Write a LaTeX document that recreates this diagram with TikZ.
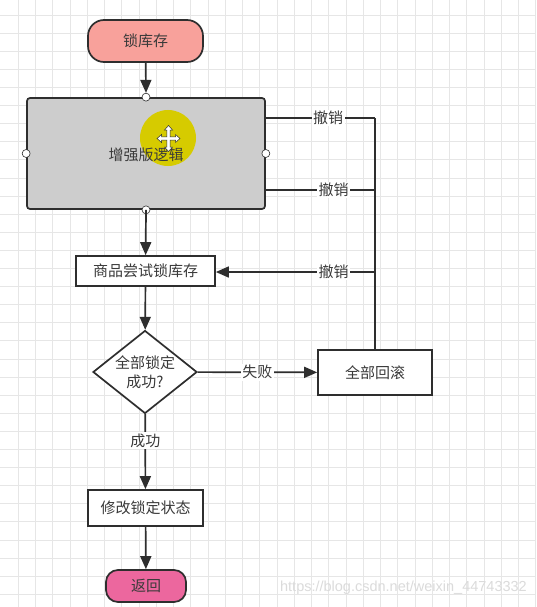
\documentclass[tikz,border=0pt]{standalone}
\usepackage{fontspec}
\setmainfont{Noto Sans CJK SC}
\newfontfamily\wmfont{Liberation Sans}
\usetikzlibrary{arrows.meta,shapes.geometric}
\definecolor{edgec}{HTML}{2E2E2E}
\definecolor{salmon}{HTML}{F8A19B}
\definecolor{grayfill}{HTML}{CDCDCD}
\definecolor{pinkfill}{HTML}{EC679E}
\definecolor{gridc}{HTML}{E6E6E6}
\definecolor{hilite}{HTML}{D6CB00}
\definecolor{txtc}{HTML}{3A3A3A}
\tikzset{
  base/.style={draw=edgec, line width=1.7pt, text=txtc, font=\fontsize{15}{19}\selectfont, inner sep=0pt, align=center},
  boxnode/.style={base, fill=white, rectangle},
  pill/.style={base, rectangle, rounded corners=16pt},
  conn/.style={draw=edgec, line width=1.7pt},
  arr/.style={conn, -{Triangle[length=13pt,width=11pt]}},
  lbl/.style={fill=white, text=txtc, font=\fontsize{15}{18}\selectfont, inner sep=1.5pt},
  port/.style={circle, draw=edgec, line width=0.6pt, fill=white, minimum size=8pt, inner sep=0pt}
}
\begin{document}
\begin{tikzpicture}[x=1pt,y=-1pt]
\useasboundingbox (0,0) rectangle (536,607);
\fill[white] (0,0) rectangle (536,607);
% grid
\foreach \k in {0,...,30} {\draw[gridc, line width=0.8pt] ({18.25+17.25*\k},0) -- ({18.25+17.25*\k},607);}
\foreach \k in {0,...,33} {\draw[gridc, line width=0.8pt] (0,{15+18.1*\k}) -- (536,{15+18.1*\k});}

% nodes
\node[pill, fill=salmon, minimum width=115pt, minimum height=42pt] (lock) at (145.5,41) {锁库存};
\node[base, rectangle, rounded corners=3pt, fill=grayfill, minimum width=238pt, minimum height=111pt] (gb) at (146,153.5) {};
\fill[hilite] (168,138) circle (28pt);
\node[text=txtc, font=\fontsize{15}{18}\selectfont, inner sep=0pt] (gbt) at (146,155) {增强版逻辑};
% cursor
\begin{scope}[shift={(168.5,138.5)}]
\draw[edgec, fill=white, line width=0.5pt]
 (0,-13) -- (4,-8.5) -- (1.6,-8.5) -- (1.6,-1.6) -- (7,-1.6) -- (7,-4) -- (11.5,0) -- (7,4) -- (7,1.6) -- (1.6,1.6) -- (1.6,8.5) -- (4,8.5) -- (0,13) -- (-4,8.5) -- (-1.6,8.5) -- (-1.6,1.6) -- (-7,1.6) -- (-7,4) -- (-11.5,0) -- (-7,-4) -- (-7,-1.6) -- (-1.6,-1.6) -- (-1.6,-8.5) -- (-4,-8.5) -- cycle;
\end{scope}
\node[port] (pt) at (gb.north) {};
\node[port] (pl) at (gb.west) {};
\node[port] (pr) at (gb.east) {};
\node[port] (pb) at (gb.south) {};

\node[boxnode, minimum width=139pt, minimum height=30pt] (sp) at (145.5,271) {商品尝试锁库存};
\node[base, fill=white, shape=diamond, aspect=1.25, minimum width=104pt, minimum height=83pt] (dia) at (145,372) {全部锁定\\成功?};
\node[boxnode, minimum width=114pt, minimum height=45pt] (rb) at (375,372.5) {全部回滚};
\node[boxnode, minimum width=115pt, minimum height=36pt] (mod) at (145.5,508) {修改锁定状态};
\node[pill, fill=pinkfill, rounded corners=12pt, minimum width=80pt, minimum height=32pt] (ret) at (146,586) {返回};

% junctions
\coordinate (j1) at (375,118);
\coordinate (j2) at (375,190);
\coordinate (j3) at (375,272);

% connectors
\draw[arr] (lock) -- (pt.north);
\draw[arr] (pb.center) -- (sp);
\draw[arr] (sp) -- (dia);
\draw[arr] (dia) -- node[lbl, pos=0.5] {失败} (rb);
\draw[arr] (dia) -- node[lbl, pos=0.35] {成功} (mod);
\draw[arr] (mod) -- (ret);
\draw[conn] (rb.north) -- (j1);
\draw[conn] (j1) -- node[lbl, pos=0.43] {撤销} (gb.east |- j1);
\draw[conn] (j2) -- node[lbl, pos=0.38] {撤销} (gb.east |- j2);
\draw[arr] (j3) -- node[lbl, pos=0.26] {撤销} (sp.east |- j3);

% watermark
\node[font=\wmfont\fontsize{14.5}{16}\selectfont, text=black!14, anchor=east, inner sep=0pt] (wm) at (527,588) {https://blog.csdn.net/weixin\_44743332};
\end{tikzpicture}
\end{document}
